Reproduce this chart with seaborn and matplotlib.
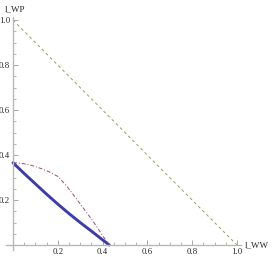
import matplotlib
matplotlib.use("Agg")
import matplotlib.pyplot as plt
import seaborn as sns
from matplotlib.ticker import MultipleLocator

# values
blue_x = [0.0, 0.05, 0.1, 0.15, 0.2, 0.25, 0.3, 0.35, 0.4, 0.43]
blue_y = [0.366, 0.318, 0.272, 0.226, 0.182, 0.140, 0.100, 0.062, 0.023, 0.0]

red_x = [0.0, 0.04, 0.08, 0.12, 0.16, 0.2, 0.24, 0.28, 0.32, 0.36, 0.4, 0.43]
red_y = [0.366, 0.363, 0.355, 0.342, 0.326, 0.305, 0.262, 0.210, 0.156, 0.102, 0.042, 0.0]

diag_x = [0.0, 1.0]
diag_y = [1.0, 0.0]

x_ticks = [0.2, 0.4, 0.6, 0.8, 1.0]
y_ticks = [0.2, 0.4, 0.6, 0.8, 1.0]

sns.set_style("white")
plt.rcParams['font.family'] = ['Liberation Serif', 'DejaVu Serif']

fig = plt.figure(figsize=(2.73, 2.57), dpi=100)
ax = fig.add_axes([0.023, 0.029, 0.8615, 0.906])

sns.lineplot(x=diag_x, y=diag_y, ax=ax, color='#a89a50', lw=0.7,
             linestyle=(0, (3, 3)), sort=False)
sns.lineplot(x=red_x, y=red_y, ax=ax, color='#a04878', lw=0.7,
             linestyle=(0, (4, 2, 1, 2)), sort=False)
sns.lineplot(x=blue_x, y=blue_y, ax=ax, color='#3d3daa', lw=2.1, sort=False)

ax.set_xlim(-0.03, 1.02)
ax.set_ylim(-0.02, 1.015)

for s in ['top', 'right']:
    ax.spines[s].set_visible(False)
for s in ['left', 'bottom']:
    ax.spines[s].set_color('#b8b8b8')
    ax.spines[s].set_linewidth(1.0)
ax.spines['left'].set_position(('data', 0))
ax.spines['bottom'].set_position(('data', 0))

ax.set_xticks(x_ticks)
ax.set_yticks(y_ticks)
ax.set_xticklabels([f"{v:.1f}" for v in x_ticks])
ax.set_yticklabels([f"{v:.1f}" for v in y_ticks])
ax.xaxis.set_minor_locator(MultipleLocator(0.05))
ax.yaxis.set_minor_locator(MultipleLocator(0.05))
ax.tick_params(which='major', direction='in', length=3.5, width=0.6,
               color='#999999', labelsize=6.3, pad=2, left=True, bottom=True)
ax.tick_params(which='minor', direction='in', length=2, width=0.5,
               color='#999999', left=True, bottom=True)

ax.text(-0.035, 1.033, "l_WP", transform=ax.get_xaxis_transform(),
        ha='left', va='center', fontsize=6.5)
ax.text(1.035, 0.0, "l_WW", ha='left', va='center', fontsize=6.5)

fig.savefig("out.png", dpi=100)
